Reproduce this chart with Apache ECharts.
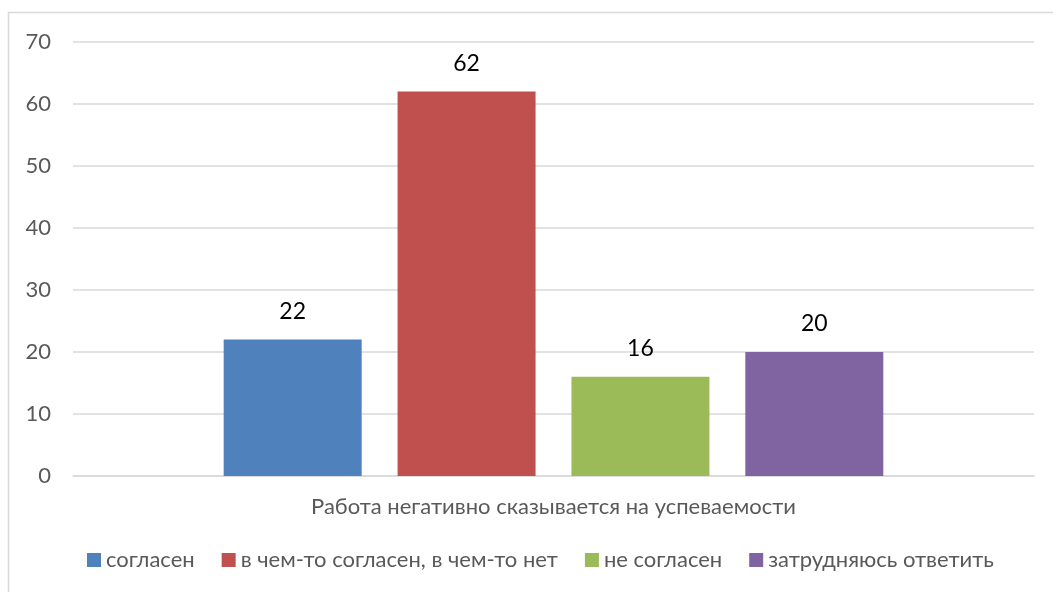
<!DOCTYPE html>
<html><head><meta charset="utf-8">
<script src="https://cdn.jsdelivr.net/npm/echarts@6/dist/echarts.min.js"></script>
<style>html,body{margin:0;padding:0;background:#fff}#c{width:1053px;height:592px}</style>
</head><body><div id="c"></div>
<script>
const categories = ['Работа негативно сказывается на успеваемости'];
const seriesNames = ['согласен', 'в чем-то согласен, в чем-то нет', 'не согласен', 'затрудняюсь ответить'];
const seriesValues = [[22], [62], [16], [20]];
const colors = ['#4F81BD', '#C0504D', '#9BBB59', '#8064A2'];
const yTicks = { min: 0, max: 70, interval: 10 };

const font = 'Lato, Open Sans, sans-serif';
const chart = echarts.init(document.getElementById('c'));
chart.setOption({
  animation: false,
  textStyle: { fontFamily: font },
  graphic: [{ type: 'rect', shape: { x: 8.5, y: 12.5, width: 1100, height: 700 }, style: { fill: 'none', stroke: '#d9d9d9', lineWidth: 1.5 }, silent: true }],
  grid: { left: 73, right: 19, top: 42, bottom: 116, containLabel: false },
  legend: {
    bottom: 16, left: 82, itemWidth: 14, itemHeight: 14, itemGap: 27,
    icon: 'rect',
    textStyle: { fontSize: 22, color: '#595959', fontFamily: font }
  },
  xAxis: {
    type: 'category', data: categories,
    axisLine: { lineStyle: { color: '#d9d9d9', width: 1.5 } },
    axisTick: { show: false },
    axisLabel: { fontSize: 22, color: '#595959', margin: 20, fontFamily: font }
  },
  yAxis: {
    type: 'value', min: yTicks.min, max: yTicks.max, interval: yTicks.interval,
    axisLine: { show: false }, axisTick: { show: false },
    splitLine: { lineStyle: { color: '#d9d9d9', width: 1.5 } },
    axisLabel: { fontSize: 22, color: '#595959', margin: 22, fontFamily: font }
  },
  series: seriesNames.map((n, i) => ({
    name: n, type: 'bar', data: seriesValues[i], barWidth: 138, barGap: '26%',
    itemStyle: { color: colors[i] },
    label: { show: true, position: 'top', distance: 17, fontSize: 23, color: '#000', fontFamily: font }
  }))
});
</script></body></html>
